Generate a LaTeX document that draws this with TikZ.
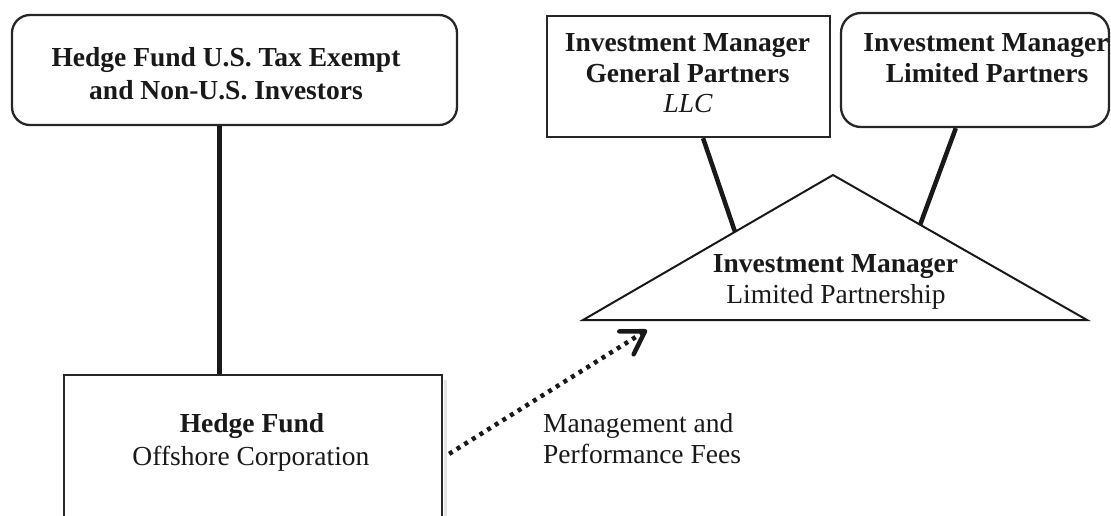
\documentclass[tikz,border=0pt]{standalone}
\usepackage{fontspec}
\setmainfont{Liberation Serif}
\usetikzlibrary{arrows.meta,calc}
\begin{document}
\begin{tikzpicture}[x=1pt,y=-1pt,
  boxline/.style={draw=black!85, line width=2.3pt, inner sep=0pt},
  txt/.style={inner sep=0pt, anchor=base, text=black!90, font=\fontsize{27.5}{32}\selectfont},
  btxt/.style={txt, font=\fontsize{27.5}{32}\selectfont\bfseries},
  itxt/.style={txt, font=\fontsize{27.5}{32}\selectfont\itshape},
  ltxt/.style={txt, anchor=base west},
  conn/.style={draw=black!90, line width=4.5pt},
  dotline/.style={draw=black!90, line width=4.5pt, dash pattern=on 4pt off 5pt},
]
\useasboundingbox (0,0) rectangle (1111,516);
\clip (0,0) rectangle (1111,516);

% boxes
\node[boxline, rounded corners=18pt, minimum width=445pt, minimum height=110pt] (tl) at (234.5,70) {};
\node[boxline, minimum width=283pt, minimum height=121pt] (gp) at (688.5,76.5) {};
\node[boxline, rounded corners=20pt, minimum width=268pt, minimum height=114pt] (lp) at (975,70) {};
\draw[gray!20, line width=3pt] (445.5,380) -- (445.5,520);
\node[boxline, fill=white, minimum width=378pt, minimum height=190pt] (hf) at (253,470) {};

% triangle
\coordinate (tA) at (833,175);
\coordinate (tL) at (583,320);
\coordinate (tR) at (1087,320);
\draw[draw=black!90, line width=2pt, line join=miter] (tL) -- (tA) -- (tR) -- cycle;
\coordinate (gpend) at ($(tL)!0.608!(tA)$);
\coordinate (lpend) at ($(tR)!0.657!(tA)$);

% connectors
\coordinate (tlout) at ($(tl.south west)!0.467!(tl.south east)$);
\draw[conn] (tlout) -- (tlout |- hf.north);
\coordinate (gpout) at ($(gp.south west)!0.551!(gp.south east)$);
\draw[conn] (gpout) -- (gpend);
\coordinate (lpout) at ($(lp.south west)!0.429!(lp.south east)$);
\draw[conn] (lpout) -- (lpend);

% fees arrow
\coordinate (feestart) at ($(hf.north east)+(6,80)$);
\coordinate (feetip) at (647,330);
\draw[dotline, -{Straight Barb[length=22pt, width=27pt, line width=4.5pt, round]}] (feestart) -- (feetip);

% texts
\node[btxt] (tl1) at (226,67) {Hedge Fund U.S. Tax Exempt};
\node[btxt] (tl2) at (226,100) {and Non-U.S. Investors};
\node[btxt] (gp1) at (687.5,52) {Investment Manager};
\node[btxt] (gp2) at (687.5,82.5) {General Partners};
\node[itxt] (gp3) at (688,113) {LLC};
\node[btxt] (lp1) at (986,52) {Investment Manager};
\node[btxt] (lp2) at (987,83) {Limited Partners};
\node[btxt] (im1) at (835.5,272) {Investment Manager};
\node[txt] (im2) at (836,303) {Limited Partnership};
\node[btxt] (hf1) at (252,432.5) {Hedge Fund};
\node[txt] (hf2) at (251,465) {Offshore Corporation};
\node[ltxt] (fee1) at (543,432) {Management and};
\node[ltxt] (fee2) at (543,463) {Performance Fees};
\end{tikzpicture}
\end{document}
